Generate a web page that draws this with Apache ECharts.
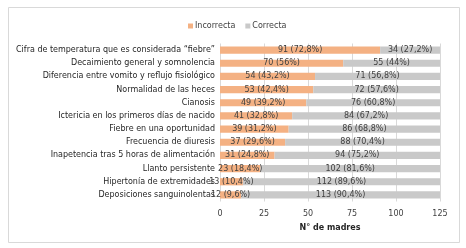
<!DOCTYPE html>
<html>
<head>
<meta charset="utf-8">
<script src="https://cdn.jsdelivr.net/npm/echarts@6/dist/echarts.min.js"></script>
<style>
  html, body { margin: 0; padding: 0; background: #fff; }
  #chart { width: 466px; height: 248px; }
</style>
</head>
<body>
<div id="chart"></div>
<script>
// categorias (de arriba hacia abajo)
var categories = [
  'Cifra de temperatura que es considerada “fiebre”',
  'Decaimiento general y somnolencia',
  'Diferencia entre vomito y reflujo fisiológico',
  'Normalidad de las heces',
  'Cianosis',
  'Ictericia en los primeros días de nacido',
  'Fiebre en una oportunidad',
  'Frecuencia de diuresis',
  'Inapetencia tras 5 horas de alimentación',
  'Llanto persistente',
  'Hipertonía de extremidades',
  'Deposiciones sanguinolentas'
];
var incorrecta = [91, 70, 54, 53, 49, 41, 39, 37, 31, 23, 13, 12];
var correcta = [34, 55, 71, 72, 76, 84, 86, 88, 94, 102, 112, 113];
var xTicks = [0, 25, 50, 75, 100, 125];

var total = 125;
var font = 'DejaVu Sans';
var fs = 8;

function pctLabel(p) {
  var pct = Math.round(p.value / total * 1000) / 10;
  return p.value + ' (' + String(pct).replace('.', ',') + '%)';
}

var chart = echarts.init(document.getElementById('chart'), null, { renderer: 'canvas' });

var option = {
  animation: false,
  backgroundColor: '#fff',
  textStyle: { fontFamily: font },
  graphic: [{
    type: 'rect',
    shape: { x: 8.5, y: 7.5, width: 451, height: 235 },
    style: { fill: 'none', stroke: '#d9d9d9', lineWidth: 1 },
    z: -1
  }],
  legend: {
    data: ['Incorrecta', 'Correcta'],
    top: 17,
    left: 183,
    itemWidth: 5,
    itemHeight: 5,
    itemGap: 10,
    icon: 'rect',
    textStyle: { fontFamily: font, fontSize: fs, color: '#404040', padding: [0, 0, 0, -3] }
  },
  grid: { left: 220, right: 26, top: 43.5, bottom: 46.5 },
  xAxis: {
    type: 'value',
    min: 0,
    max: xTicks[xTicks.length - 1],
    interval: 25,
    name: 'N° de madres',
    nameLocation: 'middle',
    nameGap: 22,
    nameTextStyle: { fontFamily: font, fontSize: fs, fontWeight: 'bold', color: '#262626' },
    axisLine: { show: false },
    axisTick: { show: false },
    axisLabel: { fontFamily: font, fontSize: fs, color: '#404040', margin: 8 },
    splitLine: { show: true, lineStyle: { color: '#d9d9d9', width: 1 } }
  },
  yAxis: {
    type: 'category',
    data: categories,
    inverse: true,
    axisLine: { show: false },
    axisTick: { show: false },
    axisLabel: { fontFamily: font, fontSize: fs, color: '#262626', margin: 5 }
  },
  series: [
    {
      name: 'Incorrecta',
      type: 'bar',
      stack: 'total',
      data: incorrecta,
      barWidth: '55%',
      itemStyle: { color: '#f4b183' },
      label: {
        show: true,
        position: 'inside',
        fontFamily: font,
        fontSize: fs,
        color: '#404040',
        formatter: pctLabel
      }
    },
    {
      name: 'Correcta',
      type: 'bar',
      stack: 'total',
      data: correcta,
      barWidth: '55%',
      itemStyle: { color: '#c9c9c9' },
      label: {
        show: true,
        position: 'inside',
        fontFamily: font,
        fontSize: fs,
        color: '#404040',
        formatter: pctLabel
      }
    }
  ]
};

chart.setOption(option);
</script>
</body>
</html>
